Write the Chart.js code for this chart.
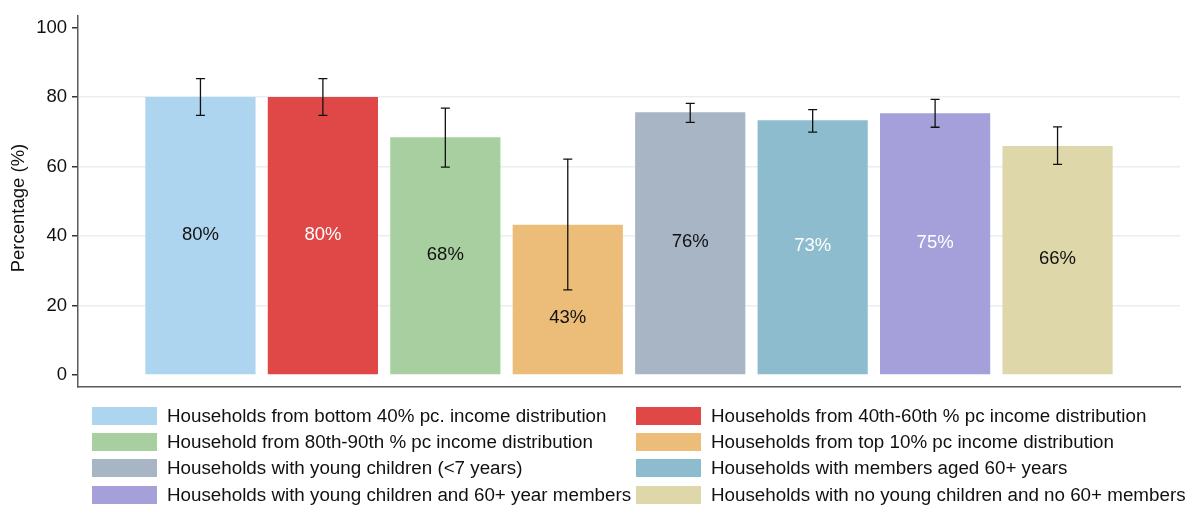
<!DOCTYPE html>
<html>
<head>
<meta charset="utf-8">
<script src="https://cdn.jsdelivr.net/npm/chart.js@4/dist/chart.umd.min.js"></script>
<style>
  html, body { margin: 0; padding: 0; background: #fff; }
  #wrap { position: relative; width: 1189px; height: 507px; font-family: "Liberation Sans", Arial, sans-serif; }
  #chart { position: absolute; left: 0; top: 0; }
  .item { position: absolute; height: 26px; display: flex; align-items: center; white-space: nowrap; font-size: 18.8px; color: #111; }
  .swatch { width: 65px; height: 18px; margin-right: 10px; flex: none; }
</style>
</head>
<body>
<div id="wrap">
  <canvas id="chart" width="1189" height="507"></canvas>
  <div id="legend"></div>
</div>
<script>
// Groups shown, one bar each
const groups = [
  "Households from bottom 40% pc. income distribution",
  "Households from 40th-60th % pc income distribution",
  "Household from 80th-90th % pc income distribution",
  "Households from top 10% pc income distribution",
  "Households with young children (<7 years)",
  "Households with members aged 60+ years",
  "Households with young children and 60+ year members",
  "Households with no young children and no 60+ members"
];
// Share of households (%) and confidence interval bounds
const shares    = [80.0, 80.0, 68.4, 43.2, 75.6, 73.3, 75.3, 65.9];
const ciLow     = [74.7, 74.7, 59.8, 24.5, 72.7, 69.9, 71.3, 60.6];
const ciHigh    = [85.3, 85.3, 76.8, 62.1, 78.2, 76.4, 79.3, 71.4];
const barColors = ["#aed5ef", "#e04747", "#a8cfa0", "#ecbd79", "#a8b5c4", "#8ebccf", "#a59fda", "#ddd7a9"];
const labelColors = ["#111", "#fff", "#111", "#111", "#111", "#fff", "#fff", "#111"];
const yTicks = [0, 20, 40, 60, 80, 100];

const FONT = '"Liberation Sans", Arial, sans-serif';

// Error bars and in-bar value labels
const barExtras = {
  id: 'barExtras',
  afterDatasetsDraw(chart) {
    const ctx = chart.ctx;
    const meta = chart.getDatasetMeta(0);
    const y = chart.scales.y;
    ctx.save();
    meta.data.forEach((bar, i) => {
      const x = bar.x;
      // error bar
      const yHi = y.getPixelForValue(ciHigh[i]);
      const yLo = y.getPixelForValue(ciLow[i]);
      ctx.strokeStyle = '#111';
      ctx.lineWidth = 1.3;
      ctx.beginPath();
      ctx.moveTo(x, yHi); ctx.lineTo(x, yLo);
      ctx.moveTo(x - 4.5, yHi); ctx.lineTo(x + 4.5, yHi);
      ctx.moveTo(x - 4.5, yLo); ctx.lineTo(x + 4.5, yLo);
      ctx.stroke();
      // value label in the middle of the bar, kept below the interval
      const labelVal = Math.min(shares[i] / 2, ciLow[i] - 8.5);
      const ly = y.getPixelForValue(labelVal) - 1.5;
      ctx.fillStyle = labelColors[i];
      ctx.font = '18.5px ' + FONT;
      ctx.textAlign = 'center';
      ctx.textBaseline = 'middle';
      ctx.fillText(Math.round(shares[i]) + '%', x, ly);
    });
    ctx.restore();
  }
};

// Rotated y-axis title
const yTitle = {
  id: 'yTitle',
  afterDraw(chart) {
    const ctx = chart.ctx;
    ctx.save();
    ctx.translate(19, 208);
    ctx.rotate(-Math.PI / 2);
    ctx.font = '18.5px ' + FONT;
    ctx.fillStyle = '#111';
    ctx.textAlign = 'center';
    ctx.textBaseline = 'middle';
    ctx.fillText('Percentage (%)', 0, 0);
    ctx.restore();
  }
};

new Chart(document.getElementById('chart'), {
  type: 'bar',
  data: {
    datasets: [{
      data: shares.map((v, i) => ({ x: i + 1, y: v })),
      backgroundColor: barColors,
      borderWidth: 0,
      barPercentage: 0.9,
      categoryPercentage: 1.0
    }]
  },
  options: {
    responsive: false,
    animation: false,
    events: [],
    layout: { padding: { top: 14.7, right: 9, bottom: 120.3, left: 0 } },
    plugins: { legend: { display: false }, tooltip: { enabled: false } },
    scales: {
      x: {
        type: 'linear',
        offset: false,
        min: 0,
        max: 9,
        ticks: { display: false },
        grid: { display: false, drawTicks: false, offset: false },
        border: { display: true, color: '#5a5a5a', width: 1.5 },
        afterFit(scale) { scale.height = 0; }
      },
      y: {
        min: -3.4,
        max: 103.3,
        afterBuildTicks(scale) { scale.ticks = yTicks.map(v => ({ value: v })); },
        ticks: {
          color: '#111',
          font: { family: FONT, size: 18.5 },
          padding: 5
        },
        grid: {
          color: c => (c.tick && (c.tick.value === 0 || c.tick.value === 100)) ? 'rgba(0,0,0,0)' : '#e7eff2',
          lineWidth: 1.5,
          tickColor: '#333',
          tickLength: 6,
          drawTicks: true
        },
        border: { display: true, color: '#5a5a5a', width: 1.5 },
        afterFit(scale) { scale.width = 78; }
      }
    }
  },
  plugins: [barExtras, yTitle]
});

// Two-column legend under the plot
const legend = document.getElementById('legend');
const colLeft = [92, 636];
const rowTop = [403, 429, 455, 482];
groups.forEach((name, i) => {
  const item = document.createElement('div');
  item.className = 'item';
  item.style.left = colLeft[i % 2] + 'px';
  item.style.top = rowTop[Math.floor(i / 2)] + 'px';
  const sw = document.createElement('span');
  sw.className = 'swatch';
  sw.style.background = barColors[i];
  const tx = document.createElement('span');
  tx.textContent = name;
  item.appendChild(sw);
  item.appendChild(tx);
  legend.appendChild(item);
});
</script>
</body>
</html>
